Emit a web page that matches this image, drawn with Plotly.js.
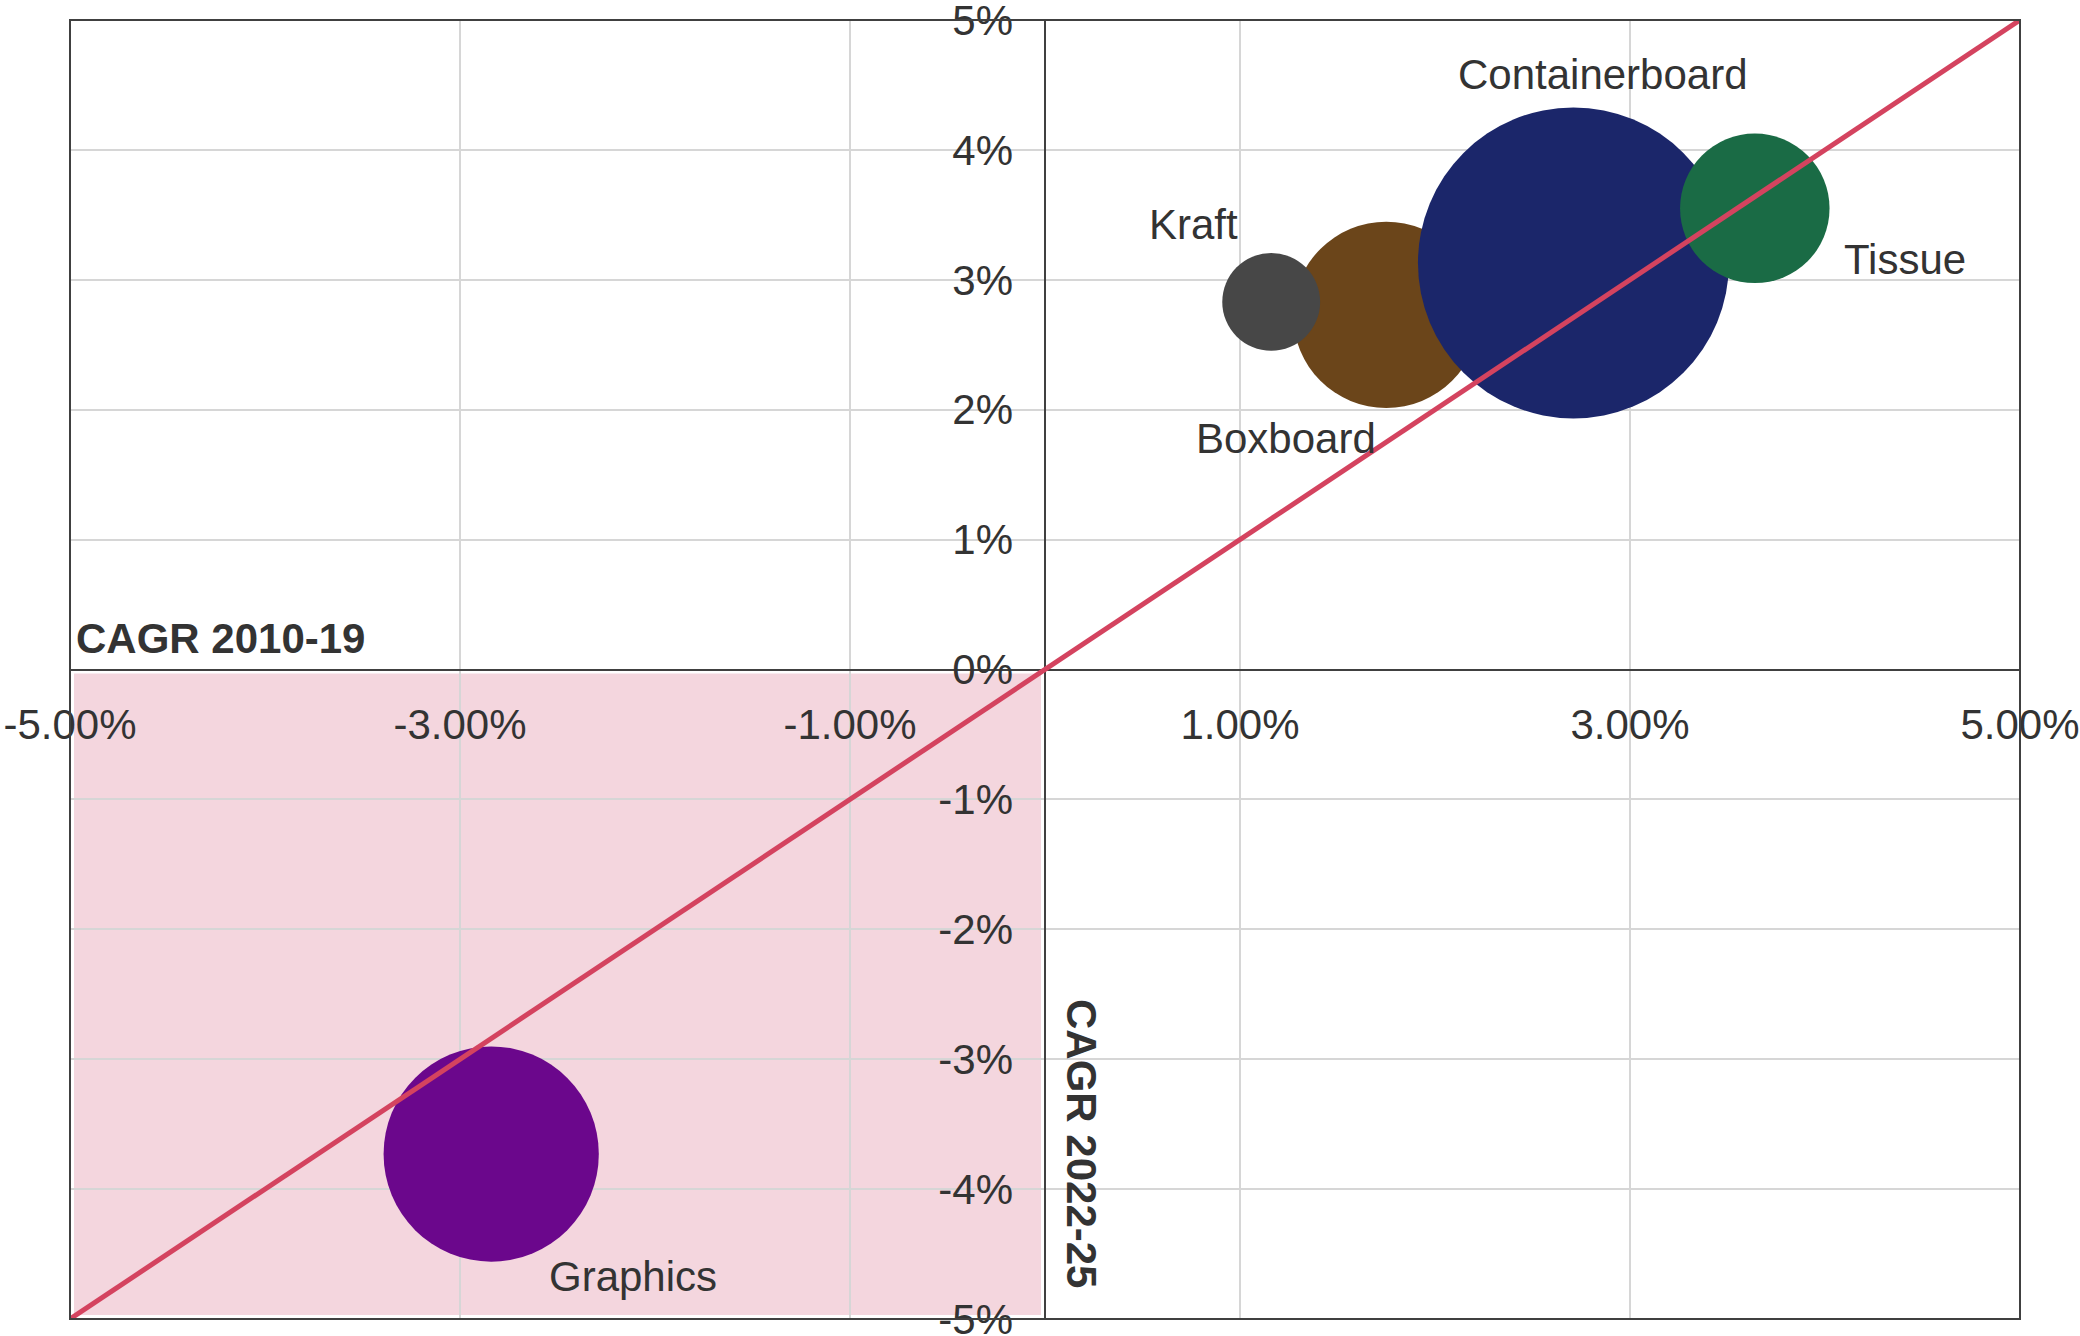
<!DOCTYPE html>
<html>
<head>
<meta charset="utf-8">
<script src="https://cdn.plot.ly/plotly-3.0.1.min.js"></script>
<style>
  html, body { margin: 0; padding: 0; background: #ffffff; }
  #chart { width: 2080px; height: 1336px; }
</style>
</head>
<body>
<div id="chart"></div>
<script>
// ---- data (drawing order: later points on top) ----
const categories   = ['Boxboard', 'Kraft', 'Containerboard', 'Tissue', 'Graphics'];
const cagr2010_19  = [1.75, 1.16, 2.71, 3.64, -2.84];   // x, %
const cagr2022_25  = [2.73, 2.83, 3.13, 3.55, -3.73];   // y, %
const bubbleVolume = [35.9, 9.9, 100, 23.1, 47.9];      // relative size

const parityX = [-5, 5];
const parityY = [-5, 5];

const xTickVals = [-5, -3, -1, 1, 3, 5];
const xTickText = ['-5.00%', '-3.00%', '-1.00%', '1.00%', '3.00%', '5.00%'];
const yTickVals = [-5, -4, -3, -2, -1, 0, 1, 2, 3, 4, 5];
const yTickText = ['-5%', '-4%', '-3%', '-2%', '-1%', '0%', '1%', '2%', '3%', '4%', '5%'];

const xTitle = 'CAGR 2010-19';
const yTitle = 'CAGR 2022-25';

// ---- style ----
const bubbleColors = ['#6b451a', '#474747', '#1b266a', '#1a6b45', '#6b078c'];
const labelShift = {           // pixel offsets of labels from bubble centres
  Boxboard:       [-100, -124],
  Kraft:          [-78,  77],
  Containerboard: [ 30,  188],
  Tissue:         [150, -51],
  Graphics:       [142, -122]
};
const maxDiameter = 311;
const textColor = '#333333';
const font = 'Liberation Sans, Arial, sans-serif';
const fs = 42;

const bubbles = {
  type: 'scatter',
  mode: 'markers',
  x: cagr2010_19,
  y: cagr2022_25,
  text: categories,
  hoverinfo: 'text',
  cliponaxis: false,
  marker: {
    size: bubbleVolume,
    sizemode: 'area',
    sizeref: 2 * Math.max(...bubbleVolume) / (maxDiameter * maxDiameter),
    color: bubbleColors,
    opacity: 1,
    line: { width: 0 }
  },
  showlegend: false
};

const parity = {
  type: 'scatter',
  mode: 'lines',
  x: parityX,
  y: parityY,
  line: { color: '#d4435f', width: 5 },
  hoverinfo: 'skip',
  showlegend: false
};

const labelAnnotations = categories.map((c, i) => ({
  x: cagr2010_19[i],
  y: cagr2022_25[i],
  xref: 'x', yref: 'y',
  text: c,
  showarrow: false,
  xanchor: 'center', yanchor: 'middle',
  xshift: labelShift[c][0],
  yshift: labelShift[c][1],
  font: { family: font, size: fs, color: textColor }
}));

const layout = {
  width: 2080,
  height: 1336,
  margin: { l: 70, r: 60, t: 20, b: 17, pad: 0 },
  paper_bgcolor: '#ffffff',
  plot_bgcolor: '#ffffff',
  showlegend: false,
  xaxis: {
    range: [-5, 5],
    anchor: 'free',
    position: 0.5,
    tickvals: xTickVals,
    ticktext: xTickText,
    ticks: '',
    ticklabelstandoff: 26,
    ticklabeloverflow: 'allow',
    showgrid: true,
    gridcolor: '#d6d6d6',
    gridwidth: 2,
    zeroline: true,
    zerolinecolor: '#404040',
    zerolinewidth: 2,
    showline: false,
    tickfont: { family: font, size: fs, color: textColor },
    fixedrange: true
  },
  yaxis: {
    range: [-5, 5],
    anchor: 'free',
    position: 0.5,
    tickvals: yTickVals,
    ticktext: yTickText,
    ticks: '',
    ticklabelstandoff: 32,
    ticklabeloverflow: 'allow',
    showgrid: true,
    gridcolor: '#d6d6d6',
    gridwidth: 2,
    zeroline: true,
    zerolinecolor: '#404040',
    zerolinewidth: 2,
    showline: false,
    tickfont: { family: font, size: fs, color: textColor },
    fixedrange: true
  },
  shapes: [
    {
      type: 'rect', xref: 'x', yref: 'y',
      x0: -5, x1: 0, y0: -5, y1: 0,
      fillcolor: '#f4d6de',
      line: { color: '#ffffff', width: 8 },
      layer: 'below'
    },
    {
      type: 'rect', xref: 'paper', yref: 'paper',
      x0: 0, x1: 1, y0: 0, y1: 1,
      line: { color: '#404040', width: 2 },
      fillcolor: 'rgba(0,0,0,0)',
      layer: 'above'
    }
  ],
  annotations: labelAnnotations.concat([
    {
      x: -5, y: 0, xref: 'x', yref: 'y',
      text: '<b>' + xTitle + '</b>',
      showarrow: false,
      xanchor: 'left', yanchor: 'middle',
      xshift: 4, yshift: 31,
      font: { family: font, size: fs, color: textColor }
    },
    {
      x: 0, y: 0.1355, xref: 'x', yref: 'paper',
      text: '<b>' + yTitle + '</b>',
      showarrow: false,
      textangle: 90,
      xanchor: 'center', yanchor: 'middle',
      xshift: 36,
      font: { family: font, size: fs, color: textColor }
    }
  ])
};

Plotly.newPlot('chart', [bubbles, parity], layout, { displayModeBar: false, staticPlot: true });
</script>
</body>
</html>
